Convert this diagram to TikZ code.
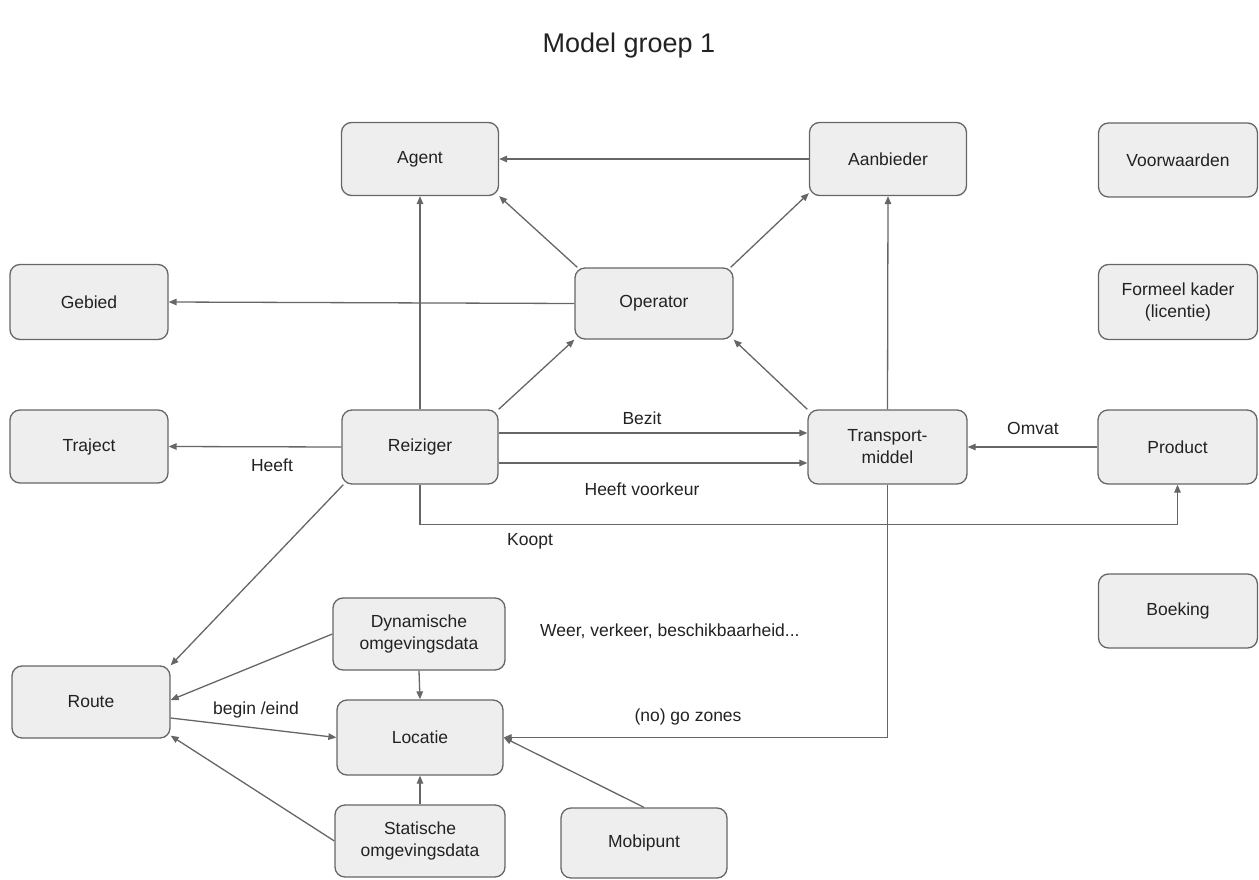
\documentclass[tikz,border=0pt]{standalone}
\usepackage{fontspec}
\setmainfont{Liberation Sans}
\usetikzlibrary{arrows.meta}
\definecolor{edgegray}{HTML}{666666}
\definecolor{boxfill}{HTML}{EEEEEE}
\definecolor{txt}{HTML}{222222}
\tikzset{
  box/.style={draw=edgegray, fill=boxfill, line width=1.3pt, rounded corners=10pt,
    inner sep=0pt, align=center, text=txt, font=\fontsize{17.5}{22}\selectfont},
  arr/.style={draw=edgegray, line width=1.3pt, -{Triangle[length=8pt,width=6.5pt]}},
  lbl/.style={text=txt, font=\fontsize{17.5}{22}\selectfont, inner sep=0pt},
}
\begin{document}
\begin{tikzpicture}[x=1pt,y=-1pt]
\useasboundingbox (0,0) rectangle (1259,880);
\node[text=txt, font=\fontsize{27}{32}\selectfont] (title) at (629,46) {Model groep 1};

\node[box, minimum width=157pt, minimum height=73pt] (agent) at (420,159) {Agent};
\node[box, minimum width=157pt, minimum height=73pt] (aanb) at (888,159) {Aanbieder};
\node[box, minimum width=159pt, minimum height=74pt] (voorw) at (1178,160) {Voorwaarden};
\node[box, minimum width=158pt, minimum height=75pt] (gebied) at (89,302) {Gebied};
\node[box, minimum width=158pt, minimum height=71pt] (oper) at (654,303.5) {Operator};
\node[box, minimum width=159pt, minimum height=75pt] (formeel) at (1178,302) {Formeel kader\\(licentie)};
\node[box, minimum width=158pt, minimum height=73pt] (traject) at (89,446.5) {Traject};
\node[box, minimum width=156pt, minimum height=74pt] (reis) at (420,447) {Reiziger};
\node[box, minimum width=159pt, minimum height=74pt] (trans) at (887.5,447) {Transport-\\middel};
\node[box, minimum width=159pt, minimum height=74pt] (prod) at (1177.5,447) {Product};
\node[box, minimum width=159pt, minimum height=74pt] (boek) at (1178,611) {Boeking};
\node[box, minimum width=172pt, minimum height=72pt] (dyn) at (419,634) {Dynamische\\omgevingsdata};
\node[box, minimum width=158pt, minimum height=72pt] (route) at (91,702) {Route};
\node[box, minimum width=166pt, minimum height=75pt] (loc) at (420,737.5) {Locatie};
\node[box, minimum width=170pt, minimum height=72pt] (stat) at (420,841) {Statische\\omgevingsdata};
\node[box, minimum width=166pt, minimum height=70pt] (mobi) at (644,843) {Mobipunt};

% connectors
\draw[arr] (aanb.west) -- (agent.east);
\draw[arr] ([xshift=3pt]oper.north west) -- (agent.south east);
\draw[arr] ([xshift=-3pt]oper.north east) -- ([yshift=3pt]aanb.south west);
\draw[arr] (oper.west) -- (gebied.east);
\draw[arr] (reis.north) -- (agent.south);
\draw[arr] (reis.north east) -- (oper.south west);
\draw[arr] (trans.north west) -- (oper.south east);
\draw[arr] (trans.north) -- (aanb.south);
\draw[arr] ([yshift=14pt]reis.east) -- ([yshift=14pt]trans.west);
\draw[arr] ([yshift=-16pt]reis.east) -- ([yshift=-16pt]trans.west);
\draw[arr] (reis.west) -- (traject.east);
\draw[arr] (reis.south) -- ++(0,40) -| (prod.south);
\draw[arr] (prod.west) -- (trans.east);
\draw[arr] ([xshift=2pt]reis.south west) -- (route.north east);
\draw[arr] (dyn.west) -- ([yshift=2pt]route.east);
\draw[arr] ([yshift=-16pt]route.east) -- (loc.west);
\draw[arr] (stat.west) -- ([yshift=3pt]route.south east);
\draw[arr] (dyn.south) -- (loc.north);
\draw[arr] (stat.north) -- (loc.south);
\draw[arr] (mobi.north) -- (loc.east);
\draw[arr] (trans.south) |- (loc.east);

% labels
\node[lbl] (lbezit) at (642,418) {Bezit};
\node[lbl] (lvoork) at (642,489) {Heeft voorkeur};
\node[lbl] (lkoopt) at (530,541) {Koopt};
\node[lbl] (lheeft) at (272,465) {Heeft};
\node[lbl] (lomvat) at (1033,428) {Omvat};
\node[lbl] (lbegin) at (256,710) {begin /eind};
\node[lbl] (lgo) at (688,717) {(no) go zones};
\node[lbl, anchor=west] (lweer) at (540,631) {Weer, verkeer, beschikbaarheid...};
\end{tikzpicture}
\end{document}
